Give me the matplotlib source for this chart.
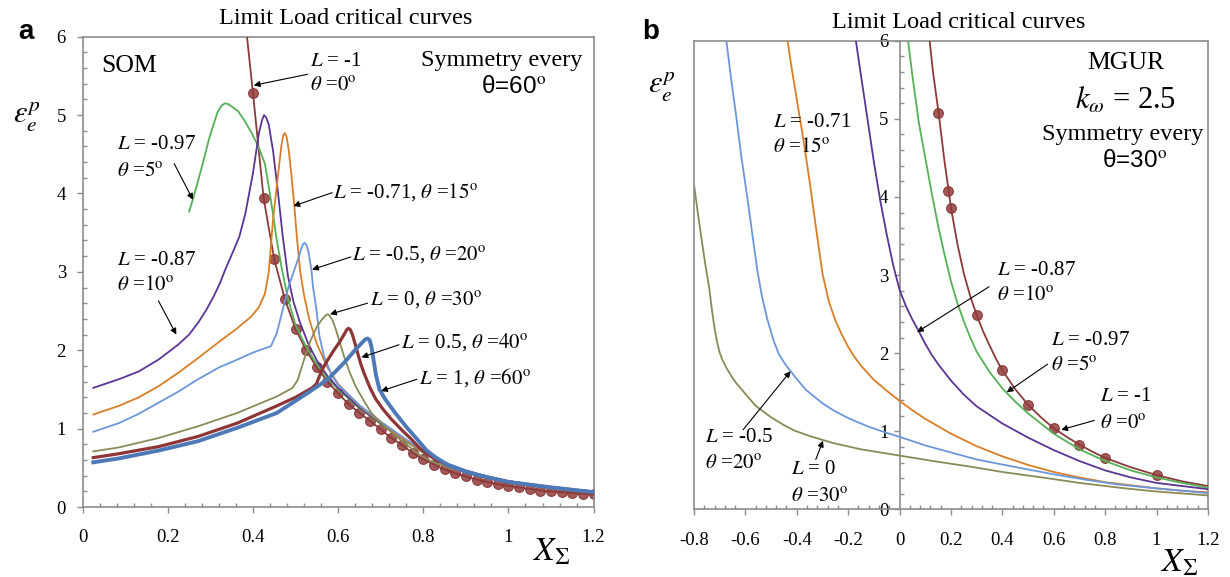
import matplotlib
matplotlib.use("Agg")
import matplotlib.pyplot as plt
from matplotlib.ticker import MultipleLocator, FuncFormatter

# ---------------------------
# Data: panel a (SOM)
# ---------------------------
som_env_x = [0.386, 0.400, 0.425, 0.450, 0.475, 0.500, 0.525, 0.550, 0.575, 0.600, 0.625, 0.650,
             0.675, 0.700, 0.725, 0.750, 0.775, 0.800, 0.825, 0.850, 0.875, 0.900, 0.925, 0.950,
             0.975, 1.000, 1.025, 1.050, 1.075, 1.100, 1.125, 1.150, 1.175, 1.200]
som_env_y = [6.00, 5.28, 3.94, 3.16, 2.65, 2.27, 2.00, 1.78, 1.60, 1.45, 1.31, 1.20,
             1.10, 0.99, 0.88, 0.79, 0.69, 0.61, 0.54, 0.48, 0.43, 0.39, 0.35, 0.32,
             0.29, 0.27, 0.25, 0.23, 0.21, 0.20, 0.19, 0.18, 0.17, 0.16]

som_097_x = [0.250, 0.261, 0.280, 0.298, 0.317, 0.326, 0.334, 0.342, 0.350, 0.365, 0.380, 0.395,
             0.410, 0.419, 0.428, 0.437, 0.447, 0.456, 0.467, 0.482, 0.500, 0.525, 0.550, 0.575,
             0.600, 0.650, 0.700, 0.750, 0.800, 0.850, 0.900, 0.950, 1.000, 1.100, 1.200]
som_097_y = [3.77, 3.96, 4.34, 4.72, 5.04, 5.12, 5.15, 5.14, 5.11, 5.05, 4.93, 4.79,
             4.63, 4.51, 4.38, 4.09, 3.74, 3.40, 3.06, 2.66, 2.32, 2.04, 1.82, 1.64,
             1.50, 1.26, 1.06, 0.87, 0.69, 0.56, 0.46, 0.39, 0.33, 0.25, 0.19]

som_087_x = [0.025, 0.085, 0.132, 0.178, 0.224, 0.250, 0.271, 0.290, 0.308, 0.322, 0.335, 0.355,
             0.368, 0.382, 0.400, 0.414, 0.421, 0.426, 0.431, 0.437, 0.447, 0.458, 0.470, 0.482,
             0.495, 0.510, 0.530, 0.550, 0.575, 0.600, 0.650, 0.700, 0.750, 0.800, 0.850, 0.900,
             0.950, 1.000, 1.100, 1.200]
som_087_y = [1.52, 1.63, 1.73, 1.88, 2.07, 2.20, 2.35, 2.51, 2.69, 2.85, 3.03, 3.28,
             3.45, 3.74, 4.26, 4.77, 4.93, 5.00, 4.97, 4.88, 4.55, 4.05, 3.45, 2.95,
             2.62, 2.36, 2.08, 1.87, 1.67, 1.52, 1.27, 1.07, 0.88, 0.70, 0.56, 0.46,
             0.39, 0.33, 0.25, 0.19]

som_071_x = [0.025, 0.085, 0.132, 0.178, 0.224, 0.271, 0.326, 0.363, 0.396, 0.414, 0.428, 0.437,
             0.447, 0.461, 0.467, 0.471, 0.475, 0.479, 0.484, 0.490, 0.497, 0.503, 0.511, 0.520,
             0.532, 0.550, 0.575, 0.600, 0.650, 0.700, 0.750, 0.800, 0.850, 0.900, 0.950, 1.000,
             1.100, 1.200]
som_071_y = [1.18, 1.29, 1.40, 1.54, 1.71, 1.90, 2.13, 2.28, 2.43, 2.55, 2.72, 2.99,
             3.66, 4.34, 4.62, 4.74, 4.77, 4.72, 4.55, 4.25, 3.85, 3.45, 3.00, 2.70,
             2.40, 2.08, 1.78, 1.57, 1.29, 1.08, 0.88, 0.70, 0.56, 0.46, 0.38, 0.32,
             0.24, 0.18]

som_050_x = [0.025, 0.085, 0.132, 0.178, 0.224, 0.271, 0.320, 0.363, 0.400, 0.420, 0.442, 0.456,
             0.470, 0.484, 0.502, 0.512, 0.517, 0.521, 0.526, 0.530, 0.537, 0.541, 0.549, 0.556,
             0.567, 0.586, 0.600, 0.650, 0.700, 0.750, 0.800, 0.850, 0.900, 0.950, 1.000, 1.100,
             1.200]
som_050_y = [0.96, 1.07, 1.19, 1.33, 1.47, 1.63, 1.78, 1.88, 1.97, 2.01, 2.05, 2.22,
             2.52, 2.82, 3.10, 3.27, 3.35, 3.37, 3.34, 3.26, 3.04, 2.81, 2.52, 2.18,
             1.92, 1.67, 1.56, 1.30, 1.09, 0.90, 0.71, 0.57, 0.47, 0.39, 0.33, 0.25,
             0.19]

som_0_x = [0.025, 0.085, 0.178, 0.271, 0.363, 0.456, 0.493, 0.505, 0.520, 0.535, 0.550, 0.563,
           0.570, 0.575, 0.580, 0.587, 0.595, 0.605, 0.614, 0.627, 0.641, 0.660, 0.678, 0.700,
           0.734, 0.760, 0.790, 0.820, 0.850, 0.900, 0.950, 1.000, 1.100, 1.200]
som_0_y = [0.71, 0.76, 0.88, 1.03, 1.20, 1.41, 1.52, 1.62, 1.88, 2.12, 2.30, 2.40,
           2.44, 2.46, 2.44, 2.38, 2.26, 2.08, 1.92, 1.72, 1.54, 1.36, 1.20, 1.08,
           0.91, 0.80, 0.67, 0.58, 0.52, 0.44, 0.37, 0.32, 0.24, 0.19]

som_p05_x = [0.025, 0.085, 0.178, 0.271, 0.363, 0.456, 0.500, 0.539, 0.549, 0.562, 0.576, 0.590,
             0.604, 0.615, 0.620, 0.624, 0.629, 0.634, 0.640, 0.645, 0.653, 0.660, 0.675, 0.688,
             0.705, 0.725, 0.750, 0.771, 0.790, 0.808, 0.830, 0.860, 0.900, 0.950, 1.000, 1.100,
             1.200]
som_p05_y = [0.63, 0.68, 0.77, 0.90, 1.07, 1.29, 1.40, 1.52, 1.57, 1.75, 1.88, 2.00,
             2.11, 2.21, 2.26, 2.28, 2.26, 2.19, 2.08, 1.98, 1.83, 1.72, 1.52, 1.38,
             1.25, 1.12, 0.98, 0.87, 0.76, 0.68, 0.60, 0.53, 0.45, 0.38, 0.32, 0.25,
             0.19]

som_p1_x = [0.025, 0.085, 0.178, 0.271, 0.363, 0.456, 0.530, 0.576, 0.614, 0.641, 0.655, 0.664,
            0.669, 0.674, 0.678, 0.682, 0.689, 0.697, 0.710, 0.734, 0.762, 0.780, 0.808, 0.830,
            0.860, 0.900, 0.950, 1.000, 1.100, 1.200]
som_p1_y = [0.57, 0.62, 0.72, 0.84, 1.01, 1.20, 1.46, 1.63, 1.84, 2.01, 2.09, 2.14,
            2.15, 2.13, 2.05, 1.92, 1.68, 1.50, 1.38, 1.20, 1.01, 0.90, 0.72, 0.63,
            0.53, 0.45, 0.38, 0.32, 0.25, 0.19]

# ---------------------------
# Data: panel b (MGUR)
# ---------------------------
mg_m1_x = [0.117, 0.130, 0.152, 0.175, 0.191, 0.200, 0.225, 0.250, 0.275, 0.300, 0.325, 0.350,
           0.375, 0.400, 0.450, 0.500, 0.550, 0.600, 0.650, 0.700, 0.750, 0.800, 0.900, 1.000,
           1.100, 1.200]
mg_m1_y = [6.00, 5.60, 5.07, 4.45, 4.08, 3.86, 3.40, 3.02, 2.73, 2.49, 2.28, 2.10,
           1.93, 1.78, 1.54, 1.34, 1.18, 1.04, 0.93, 0.83, 0.74, 0.66, 0.54, 0.44,
           0.36, 0.30]
mg_mark_x = [0.15, 0.19, 0.20, 0.30, 0.40, 0.50, 0.60, 0.70, 0.80, 1.00]
mg_mark_y = [5.07, 4.08, 3.86, 2.49, 1.78, 1.34, 1.04, 0.83, 0.66, 0.44]

mg_097_x = [0.033, 0.050, 0.075, 0.100, 0.125, 0.150, 0.175, 0.200, 0.225, 0.250, 0.275, 0.300,
            0.350, 0.400, 0.450, 0.500, 0.600, 0.700, 0.800, 0.900, 1.000, 1.100, 1.200]
mg_097_y = [6.00, 5.55, 4.95, 4.50, 4.05, 3.63, 3.26, 2.92, 2.64, 2.41, 2.20, 2.02,
            1.76, 1.55, 1.38, 1.23, 0.97, 0.77, 0.62, 0.50, 0.41, 0.34, 0.28]

mg_087_x = [-0.170, -0.150, -0.125, -0.100, -0.075, -0.050, -0.025, 0.000, 0.025, 0.050, 0.075,
            0.100, 0.125, 0.150, 0.200, 0.250, 0.300, 0.400, 0.500, 0.600, 0.700, 0.800, 0.900,
            1.000, 1.100, 1.200]
mg_087_y = [6.00, 5.55, 5.00, 4.45, 3.95, 3.52, 3.13, 2.81, 2.60, 2.43, 2.28,
            2.12, 1.98, 1.86, 1.65, 1.47, 1.32, 1.10, 0.92, 0.76, 0.62, 0.50, 0.41,
            0.34, 0.30, 0.26]

mg_071_x = [-0.436, -0.420, -0.400, -0.375, -0.350, -0.325, -0.300, -0.275, -0.250, -0.225,
            -0.200, -0.175, -0.150, -0.100, -0.050, 0.000, 0.050, 0.100, 0.200, 0.300, 0.400,
            0.500, 0.600, 0.700, 0.800, 0.900, 1.000, 1.100, 1.200]
mg_071_y = [6.00, 5.65, 5.25, 4.75, 4.20, 3.60, 3.02, 2.66, 2.42, 2.24,
            2.08, 1.95, 1.84, 1.66, 1.52, 1.39, 1.27, 1.16, 0.97, 0.81, 0.68,
            0.57, 0.48, 0.41, 0.35, 0.31, 0.27, 0.24, 0.22]

mg_050_x = [-0.674, -0.655, -0.636, -0.615, -0.591, -0.572, -0.553, -0.535, -0.515, -0.490,
            -0.470, -0.445, -0.424, -0.400, -0.364, -0.300, -0.258, -0.200, -0.121, -0.050,
            0.000, 0.100, 0.200, 0.300, 0.424, 0.600, 0.727, 0.850, 1.000, 1.200]
mg_050_y = [6.00, 5.50, 5.04, 4.50, 3.96, 3.50, 3.05, 2.72, 2.44, 2.16,
            1.99, 1.86, 1.77, 1.67, 1.53, 1.36, 1.27, 1.17, 1.06, 0.98,
            0.93, 0.82, 0.73, 0.64, 0.56, 0.45, 0.38, 0.32, 0.27, 0.21]

mg_0_x = [-0.800, -0.785, -0.770, -0.755, -0.740, -0.730, -0.720, -0.710, -0.700, -0.690,
          -0.675, -0.655, -0.636, -0.600, -0.561, -0.500, -0.450, -0.409, -0.350, -0.258,
          -0.150, 0.000, 0.150, 0.273, 0.400, 0.576, 0.700, 0.879, 1.000, 1.200]
mg_0_y = [4.16, 3.80, 3.45, 3.12, 2.82, 2.55, 2.32, 2.14, 2.01, 1.92,
          1.82, 1.71, 1.62, 1.48, 1.33, 1.18, 1.08, 1.01, 0.94, 0.85,
          0.77, 0.69, 0.61, 0.55, 0.48, 0.40, 0.34, 0.27, 0.23, 0.18]

# ---------------------------
# Styles
# ---------------------------
c_brown = "#8B3A3A"
c_green = "#55B156"
c_purple = "#5B3594"
c_orange = "#DA7E26"
c_lblue = "#6C96DA"
c_olive = "#8A8A58"
c_dred = "#8E3535"
c_steel = "#4E79B7"
gray = "#8c8c8c"
thin = 1.3

plt.rcParams.update({
    "font.family": ["Liberation Serif", "DejaVu Serif"],
    "mathtext.fontset": "stix",
    "font.size": 15,
})

fig = plt.figure(figsize=(12.3, 5.77), dpi=100)
ax1 = fig.add_axes([0.0672, 0.1213, 0.4154, 0.8151])
ax2 = fig.add_axes([0.5642, 0.1170, 0.4179, 0.8125])

fmt = FuncFormatter(lambda v, p: "%g" % round(v, 2))


def style_axis(ax):
    for sp in ax.spines.values():
        sp.set_color(gray)
        sp.set_linewidth(1.2)
    ax.xaxis.set_major_locator(MultipleLocator(0.2))
    ax.xaxis.set_minor_locator(MultipleLocator(0.04))
    ax.yaxis.set_major_locator(MultipleLocator(1))
    ax.yaxis.set_minor_locator(MultipleLocator(0.2))
    ax.xaxis.set_major_formatter(fmt)
    ax.yaxis.set_major_formatter(fmt)
    ax.tick_params(which="major", direction="out", length=4, width=1.0, color=gray, labelsize=13.5)
    ax.tick_params(which="minor", direction="in", length=3, width=1.0, color=gray)
    ax.tick_params(axis="x", which="major", pad=12)
    ax.tick_params(top=False, right=False, which="both")


arrow = dict(arrowstyle="-|>", color="black", lw=0.8, mutation_scale=9, shrinkA=0, shrinkB=0)


def note(ax, head, tail):
    ax.annotate("", xy=head, xytext=tail, arrowprops=arrow, zorder=5)


# ---------------------------
# Panel a
# ---------------------------
ax1.set_xlim(0, 1.2)
ax1.set_ylim(0, 6)
style_axis(ax1)
ax1.tick_params(axis="y", which="major", pad=8)

ax1.plot(som_env_x[1:], som_env_y[1:], linestyle="none", marker="o", ms=7,
         mfc="#A35A58", mec="#8B3A3A", mew=0.8, zorder=2)
ax1.plot(som_env_x, som_env_y, color=c_brown, lw=thin, zorder=3)
ax1.plot(som_097_x, som_097_y, color=c_green, lw=thin, zorder=3)
ax1.plot(som_087_x, som_087_y, color=c_purple, lw=thin, zorder=3)
ax1.plot(som_071_x, som_071_y, color=c_orange, lw=thin, zorder=3)
ax1.plot(som_050_x, som_050_y, color=c_lblue, lw=thin, zorder=3)
ax1.plot(som_0_x, som_0_y, color=c_olive, lw=thin, zorder=3)
ax1.plot(som_p05_x, som_p05_y, color=c_dred, lw=2.3, zorder=3)
ax1.plot(som_p1_x, som_p1_y, color=c_steel, lw=2.8, zorder=3)

ax1.text(0.044, 5.63, "SOM", fontsize=18.5, va="center")
ax1.text(0.985, 5.70, "Symmetry every", fontsize=17.5, va="center", ha="center")
ax1.text(1.012, 5.36, "θ=60$^{\\rm o}$", fontsize=17.5, va="center", ha="center",
         family=["Liberation Sans", "DejaVu Sans"])

ax1.text(0.535, 5.68, "$L$ = -1", va="center")
ax1.text(0.535, 5.36, "$\\theta$ =$0^{\\rm o}$", va="center")
note(ax1, (0.402, 5.38), (0.528, 5.52))

ax1.text(0.081, 4.62, "$L$ = -0.97", va="center")
ax1.text(0.081, 4.28, "$\\theta$ =$5^{\\rm o}$", va="center")
note(ax1, (0.259, 3.92), (0.215, 4.38))

ax1.text(0.588, 4.02, "$L$ = -0.71, $\\theta$ =$15^{\\rm o}$", va="center")
note(ax1, (0.495, 3.84), (0.586, 4.01))

ax1.text(0.632, 3.21, "$L$ = -0.5, $\\theta$ =$20^{\\rm o}$", va="center")
note(ax1, (0.539, 3.03), (0.630, 3.19))

ax1.text(0.081, 3.14, "$L$ = -0.87", va="center")
ax1.text(0.081, 2.82, "$\\theta$ =$10^{\\rm o}$", va="center")
note(ax1, (0.220, 2.20), (0.178, 2.63))

ax1.text(0.674, 2.63, "$L$ = 0, $\\theta$ =$30^{\\rm o}$", va="center")
note(ax1, (0.581, 2.46), (0.669, 2.60))

ax1.text(0.748, 2.10, "$L$ = 0.5, $\\theta$ =$40^{\\rm o}$", va="center")
note(ax1, (0.655, 1.91), (0.743, 2.07))

ax1.text(0.790, 1.65, "$L$ = 1, $\\theta$ =$60^{\\rm o}$", va="center")
note(ax1, (0.701, 1.48), (0.785, 1.63))

# ---------------------------
# Panel b
# ---------------------------
ax2.set_xlim(-0.8, 1.2)
ax2.set_ylim(0, 6)
style_axis(ax2)
ax2.spines["left"].set_position(("data", 0))
ax2.tick_params(axis="y", which="major", pad=4)
ax2.axvline(-0.8, color=gray, lw=1.2, clip_on=False, zorder=4)

ax2.plot(mg_mark_x, mg_mark_y, linestyle="none", marker="o", ms=7,
         mfc="#A35A58", mec="#8B3A3A", mew=0.8, zorder=2)
ax2.plot(mg_m1_x, mg_m1_y, color=c_brown, lw=thin, zorder=3)
ax2.plot(mg_097_x, mg_097_y, color=c_green, lw=thin, zorder=3)
ax2.plot(mg_087_x, mg_087_y, color=c_purple, lw=thin, zorder=3)
ax2.plot(mg_071_x, mg_071_y, color=c_orange, lw=thin, zorder=3)
ax2.plot(mg_050_x, mg_050_y, color=c_lblue, lw=thin, zorder=3)
ax2.plot(mg_0_x, mg_0_y, color=c_olive, lw=thin, zorder=3)

ax2.text(0.880, 5.72, "MGUR", fontsize=18.5, va="center", ha="center")
ax2.text(0.880, 5.23, "$k_{\\omega}$ = 2.5", fontsize=22, va="center", ha="center")
ax2.text(0.868, 4.80, "Symmetry every", fontsize=17.5, va="center", ha="center")
ax2.text(0.915, 4.46, "θ=30$^{\\rm o}$", fontsize=17.5, va="center", ha="center",
         family=["Liberation Sans", "DejaVu Sans"])

ax2.text(-0.492, 4.95, "$L$ = -0.71", va="center")
ax2.text(-0.492, 4.63, "$\\theta$ =$15^{\\rm o}$", va="center")

ax2.text(0.379, 3.06, "$L$ = -0.87", va="center")
ax2.text(0.379, 2.74, "$\\theta$ =$10^{\\rm o}$", va="center")
note(ax2, (0.068, 2.27), (0.348, 2.85))

ax2.text(0.591, 2.16, "$L$ = -0.97", va="center")
ax2.text(0.591, 1.84, "$\\theta$ =$5^{\\rm o}$", va="center")
note(ax2, (0.417, 1.50), (0.576, 1.86))

ax2.text(0.780, 1.44, "$L$ = -1", va="center")
ax2.text(0.780, 1.09, "$\\theta$ =$0^{\\rm o}$", va="center")
note(ax2, (0.629, 1.02), (0.758, 1.14))

ax2.text(-0.758, 0.92, "$L$ = -0.5", va="center")
ax2.text(-0.758, 0.58, "$\\theta$ =$20^{\\rm o}$", va="center")
note(ax2, (-0.424, 1.77), (-0.609, 1.02))

ax2.text(-0.424, 0.51, "$L$ = 0", va="center")
ax2.text(-0.424, 0.15, "$\\theta$ =$30^{\\rm o}$", va="center")
note(ax2, (-0.298, 0.88), (-0.326, 0.64))

# ---------------------------
# Figure-level text
# ---------------------------
fig.text(346 / 1230, 1 - 18 / 577, "Limit Load critical curves", fontsize=17.5,
         ha="center", va="center")
fig.text(959 / 1230, 1 - 22 / 577, "Limit Load critical curves", fontsize=17.5,
         ha="center", va="center")
fig.text(26 / 1230, 1 - 32 / 577, "a", fontsize=20, fontweight="bold",
         family=["Liberation Sans", "DejaVu Sans"], ha="center", va="center")
fig.text(651 / 1230, 1 - 32 / 577, "b", fontsize=20, fontweight="bold",
         family=["Liberation Sans", "DejaVu Sans"], ha="center", va="center")
fig.text(27 / 1230, 1 - 117 / 577, "$\\varepsilon_e^p$", fontsize=22, ha="center", va="center")
fig.text(662 / 1230, 1 - 87 / 577, "$\\varepsilon_e^p$", fontsize=22, ha="center", va="center")
fig.text(552 / 1230, 1 - 552 / 577, "$X_{\\Sigma}$", fontsize=24, ha="center", va="center")
fig.text(1180 / 1230, 1 - 563 / 577, "$X_{\\Sigma}$", fontsize=24, ha="center", va="center")

fig.savefig("out.png", dpi=100, facecolor="white")
